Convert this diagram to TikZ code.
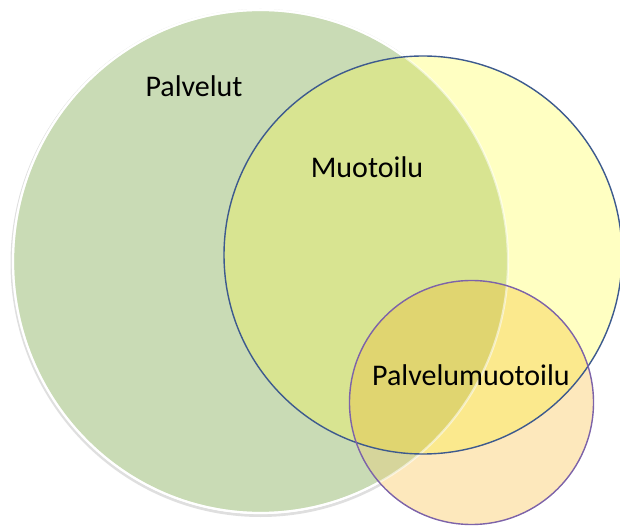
\documentclass[tikz,border=0pt]{standalone}
\usepackage{fontspec}
\setmainfont{Carlito}
\definecolor{cG}{HTML}{C9DBB5}
\definecolor{cY}{HTML}{FFFFC2}
\definecolor{cGY}{HTML}{D8E491}
\definecolor{cO}{HTML}{FDE8BC}
\definecolor{cOY}{HTML}{FBE98D}
\definecolor{cOG}{HTML}{D6D59B}
\definecolor{cGYO}{HTML}{E0D570}
\definecolor{cBlue}{HTML}{3D5A8E}
\definecolor{cPurple}{HTML}{7D63A9}
\tikzset{
  lbl/.style={anchor=base, inner sep=0pt, font=\fontsize{30}{36}\selectfont, text=black},
}
\def\green{(260.5,265.5) ellipse [x radius=247.5, y radius=251.5]}
\def\yell{(423,272) circle [radius=199]}
\def\oran{(471.5,124.5) circle [radius=122]}
\begin{document}
\begin{tikzpicture}[x=1pt,y=1pt]
\useasboundingbox (0,0) rectangle (620,527);
\fill[white] (0,0) rectangle (620,527);
% shadow of green
\draw[black!35, line width=3pt, opacity=0.35] (260.5,264) ellipse [x radius=248.5, y radius=252.5];
\fill[cG] \green;
\fill[cY] \yell;
\begin{scope}
  \clip \green;
  \fill[cGY] \yell;
\end{scope}
\fill[cO] \oran;
\begin{scope}
  \clip \oran;
  \fill[cOY] \yell;
  \fill[cOG] \green;
  \clip \green;
  \fill[cGYO] \yell;
\end{scope}
% borders
\draw[white, line width=2.2pt, opacity=0.55] \green;
\begin{scope}[even odd rule]
  \clip (0,0) rectangle (620,527) \yell;
  \begin{scope}[even odd rule]
    \clip (0,0) rectangle (620,527) \oran;
    \draw[white, line width=2.2pt] \green;
  \end{scope}
\end{scope}
\draw[cBlue, line width=1.4pt] \yell;
\draw[cPurple, line width=1.4pt] \oran;
% labels
\node[lbl] (palvelut) at (194,430) {Palvelut};
\node[lbl] (muotoilu) at (367,349) {Muotoilu};
\node[lbl] (pm) at (471,141.5) {Palvelumuotoilu};
\end{tikzpicture}
\end{document}
